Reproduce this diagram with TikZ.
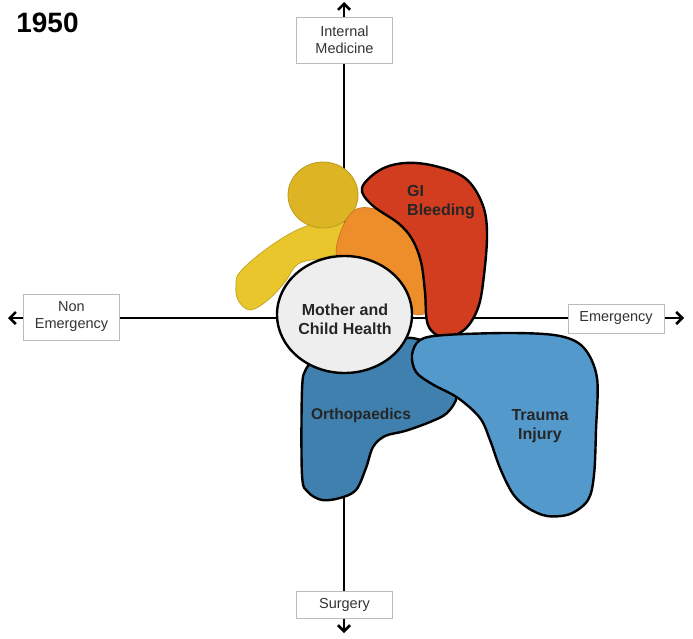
\documentclass[tikz,border=0pt]{standalone}
\usepackage{fontspec}
\setmainfont{Liberation Sans}
\usetikzlibrary{arrows.meta}
\definecolor{headgold}{HTML}{DDB524}
\definecolor{armgold}{HTML}{E8C62C}
\definecolor{giorange}{HTML}{EE8E2A}
\definecolor{gired}{HTML}{D23C1F}
\definecolor{mchwhite}{HTML}{EEEEEE}
\definecolor{orthoblue}{HTML}{4080AE}
\definecolor{traumablue}{HTML}{5499CC}
\definecolor{boxgray}{HTML}{BBBBBB}
\definecolor{labelgray}{HTML}{333333}
\begin{document}
\begin{tikzpicture}[x=1pt,y=-1pt,
  axis/.style={line width=2.2pt,black,
    {Straight Barb[length=6pt,width=12pt,line width=2.6pt]}-{Straight Barb[length=6pt,width=12pt,line width=2.6pt]}},
  axislabel/.style={draw=boxgray,line width=0.8pt,fill=white,text=labelgray,
    font=\fontsize{14.5}{17}\selectfont,align=center,minimum width=96pt,inner sep=3pt},
  blob/.style={draw=black,line width=2.4pt,line join=round},
  softblob/.style={line width=0.8pt},
  blobtext/.style={font=\fontsize{16}{19}\selectfont\bfseries,text=black!85,align=center}]
\useasboundingbox (0,0) rectangle (693,639);

% axes
\coordinate (axtop) at (344,2);
\coordinate (axbot) at (344,633);
\coordinate (axleft) at (8,318);
\coordinate (axright) at (684,318);
\draw[axis] (axbot) -- (axtop);
\draw[axis] (axleft) -- (axright);

% axis labels
\node[axislabel,minimum height=46pt] (im) at (344.5,40) {Internal\\Medicine};
\node[axislabel,minimum height=46pt] (ne) at (71.5,317) {Non\\Emergency};
\node[axislabel,minimum height=29pt] (em) at (616,318.5) {Emergency};
\node[axislabel,minimum height=27pt] (su) at (344.5,604.5) {Surgery};

% title
\node[font=\fontsize{28}{31}\selectfont\bfseries] (yr) at (47.5,23) {1950};

% yellow arm
\fill[armgold,draw=armgold!85!black,softblob] plot[smooth cycle,tension=0.6] coordinates {
  (240,272) (265,250) (297,230) (327,221) (345,223) (353,236) (345,251)
  (322,258) (298,264) (285,282) (268,300) (250,310) (238,300) (236,285)};
% yellow head
\fill[headgold,draw=headgold!85!black,softblob] (323,195) ellipse [x radius=35,y radius=33];
% orange arm, tucked under the red region
\fill[giorange,draw=giorange!85!black,softblob] plot[smooth cycle,tension=0.6] coordinates {
  (338,240) (348,217) (360,208) (378,210) (398,220) (412,236) (423,258)
  (428,285) (428,310) (414,314) (398,298) (380,282) (358,268) (338,258)};
% GI bleeding
\filldraw[blob,fill=gired] plot[smooth cycle,tension=0.6] coordinates {
  (362,188) (380,170) (405,163) (435,166) (465,178) (482,203) (487,232)
  (484,275) (478,308) (464,330) (443,337) (428,325) (425,292) (421,262)
  (412,239) (398,223) (372,205)};
% orthopaedics
\filldraw[blob,fill=orthoblue] plot[smooth cycle,tension=0.55] coordinates {
  (302,390) (306,369) (318,360) (345,365) (380,352) (405,338) (430,345)
  (452,372) (457,396) (447,413) (430,422) (405,431) (385,436) (373,447)
  (366,468) (356,490) (340,498) (322,500) (308,492) (302,475)};
% mother and child health
\filldraw[blob,fill=mchwhite] (344.5,314.5) ellipse [x radius=67.5,y radius=58.5];
% trauma injury
\filldraw[blob,fill=traumablue] plot[smooth cycle,tension=0.55] coordinates {
  (412,355) (420,340) (445,335) (513,333) (560,336) (584,348) (597,378)
  (596,430) (594,475) (588,500) (570,514) (547,516) (528,508) (513,494)
  (500,468) (490,440) (480,418) (458,398) (432,384) (416,372)};

% region labels
\node[blobtext,align=left] (gi) at (441,202) {GI\\Bleeding};
\node[blobtext] (mch) at (345,319) {Mother and\\Child Health};
\node[blobtext,font=\fontsize{15.5}{19}\selectfont\bfseries] (or) at (361,415) {Orthopaedics};
\node[blobtext] (tr) at (540,426) {Trauma\\Injury};
\end{tikzpicture}
\end{document}
